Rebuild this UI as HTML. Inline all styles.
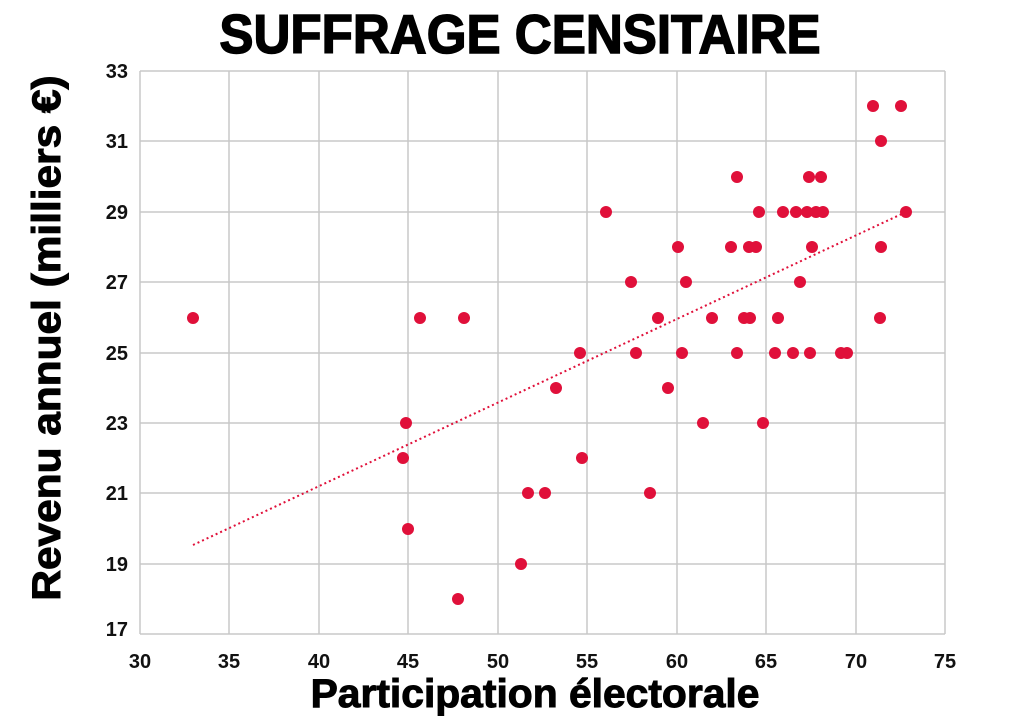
<!DOCTYPE html>
<html><head><meta charset="utf-8"><style>
html,body{margin:0;padding:0;background:#fff;}
svg{display:block;font-family:"Liberation Sans",sans-serif;}
</style></head><body>
<svg width="1019" height="720" viewBox="0 0 1019 720" xmlns="http://www.w3.org/2000/svg">
<g stroke="#c8c8c8" stroke-width="1.5">
<line x1="140" y1="71" x2="945" y2="71"/><line x1="140" y1="141" x2="945" y2="141"/><line x1="140" y1="212" x2="945" y2="212"/><line x1="140" y1="282" x2="945" y2="282"/><line x1="140" y1="353" x2="945" y2="353"/><line x1="140" y1="423" x2="945" y2="423"/><line x1="140" y1="493" x2="945" y2="493"/><line x1="140" y1="564" x2="945" y2="564"/><line x1="140" y1="634" x2="945" y2="634"/>
<line x1="140" y1="71" x2="140" y2="634"/><line x1="229" y1="71" x2="229" y2="634"/><line x1="319" y1="71" x2="319" y2="634"/><line x1="408" y1="71" x2="408" y2="634"/><line x1="498" y1="71" x2="498" y2="634"/><line x1="587" y1="71" x2="587" y2="634"/><line x1="677" y1="71" x2="677" y2="634"/><line x1="766" y1="71" x2="766" y2="634"/><line x1="856" y1="71" x2="856" y2="634"/><line x1="945" y1="71" x2="945" y2="634"/>
</g>
<g font-size="20" font-weight="bold" fill="#111" text-anchor="end">
<text x="128" y="78">33</text><text x="128" y="148">31</text><text x="128" y="219">29</text><text x="128" y="289">27</text><text x="128" y="360">25</text><text x="128" y="430">23</text><text x="128" y="500">21</text><text x="128" y="571">19</text><text x="128" y="636">17</text>
</g>
<g font-size="20" font-weight="bold" fill="#111" text-anchor="middle">
<text x="140" y="668">30</text><text x="229" y="668">35</text><text x="319" y="668">40</text><text x="408" y="668">45</text><text x="498" y="668">50</text><text x="587" y="668">55</text><text x="677" y="668">60</text><text x="766" y="668">65</text><text x="856" y="668">70</text><text x="945" y="668">75</text>
</g>
<line x1="193" y1="545" x2="906" y2="212" stroke="#e0103a" stroke-width="2" stroke-dasharray="2,3"/>
<g fill="#e0103a">
<circle cx="193" cy="318" r="6"/><circle cx="420" cy="318" r="6"/><circle cx="464" cy="318" r="6"/><circle cx="406" cy="423" r="6"/><circle cx="403" cy="458" r="6"/><circle cx="408" cy="529" r="6"/><circle cx="458" cy="599" r="6"/><circle cx="521" cy="564" r="6"/><circle cx="528" cy="493" r="6"/><circle cx="545" cy="493" r="6"/><circle cx="556" cy="388" r="6"/><circle cx="580" cy="353" r="6"/><circle cx="582" cy="458" r="6"/>
<circle cx="606" cy="212" r="6"/><circle cx="631" cy="282" r="6"/><circle cx="636" cy="353" r="6"/><circle cx="650" cy="493" r="6"/><circle cx="658" cy="318" r="6"/><circle cx="668" cy="388" r="6"/><circle cx="678" cy="247" r="6"/><circle cx="682" cy="353" r="6"/><circle cx="686" cy="282" r="6"/><circle cx="703" cy="423" r="6"/><circle cx="712" cy="318" r="6"/>
<circle cx="731" cy="247" r="6"/><circle cx="737" cy="177" r="6"/><circle cx="737" cy="353" r="6"/><circle cx="744" cy="318" r="6"/><circle cx="750" cy="318" r="6"/><circle cx="749" cy="247" r="6"/><circle cx="756" cy="247" r="6"/><circle cx="759" cy="212" r="6"/><circle cx="763" cy="423" r="6"/><circle cx="775" cy="353" r="6"/><circle cx="778" cy="318" r="6"/><circle cx="783" cy="212" r="6"/><circle cx="793" cy="353" r="6"/><circle cx="796" cy="212" r="6"/><circle cx="800" cy="282" r="6"/>
<circle cx="807" cy="212" r="6"/><circle cx="809" cy="177" r="6"/><circle cx="810" cy="353" r="6"/><circle cx="812" cy="247" r="6"/><circle cx="816" cy="212" r="6"/><circle cx="821" cy="177" r="6"/><circle cx="823" cy="212" r="6"/><circle cx="841" cy="353" r="6"/><circle cx="847" cy="353" r="6"/>
<circle cx="873" cy="106" r="6"/><circle cx="881" cy="141" r="6"/><circle cx="881" cy="247" r="6"/><circle cx="880" cy="318" r="6"/><circle cx="901" cy="106" r="6"/><circle cx="906" cy="212" r="6"/>
</g>
<text transform="translate(520 53) scale(0.93 1)" x="0" y="0" font-size="55" font-weight="bold" text-anchor="middle" fill="#000" stroke="#000" stroke-width="1.5">SUFFRAGE CENSITAIRE</text>
<text transform="translate(535 707) scale(1.02 1)" x="0" y="0" font-size="40" font-weight="bold" text-anchor="middle" fill="#000" stroke="#000" stroke-width="1">Participation électorale</text>
<text transform="translate(60 338) rotate(-90) scale(1.06 1)" x="0" y="0" font-size="40" font-weight="bold" text-anchor="middle" fill="#000" stroke="#000" stroke-width="1">Revenu annuel (milliers €)</text>
</svg>
</body></html>
